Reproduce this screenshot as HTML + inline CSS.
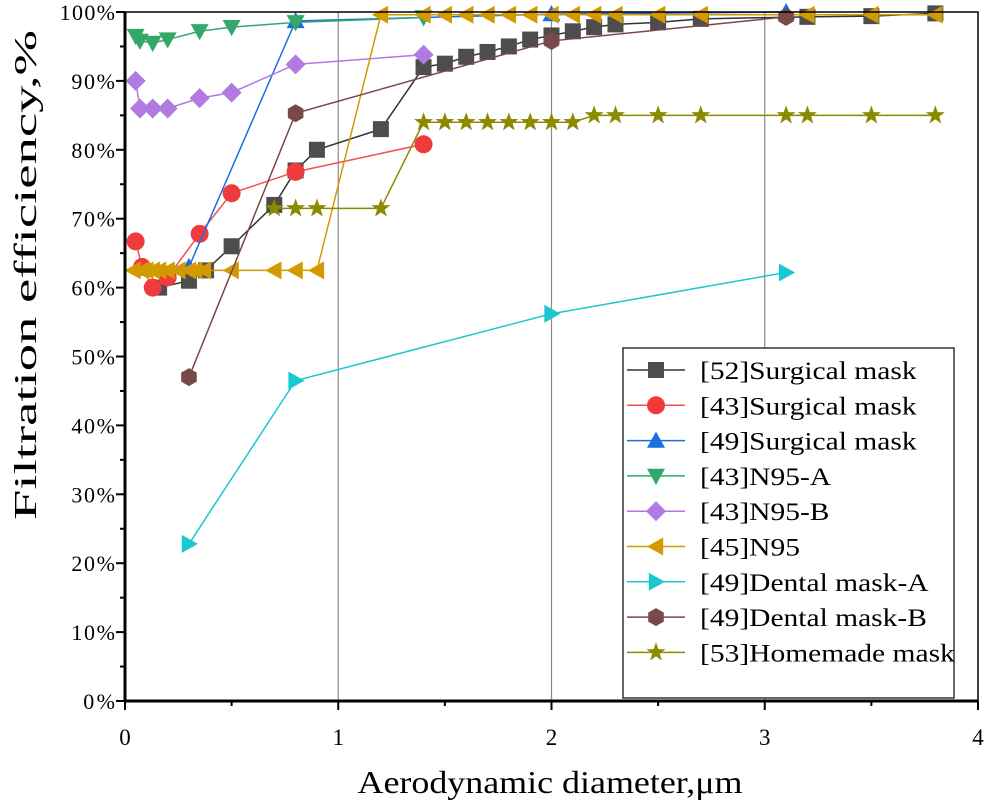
<!DOCTYPE html>
<html><head><meta charset="utf-8"><style>
body{margin:0;background:#fff;}
svg text{font-family:"Liberation Serif",serif;fill:#000;}
</style></head><body>
<svg id="chart" width="990" height="806" xmlns="http://www.w3.org/2000/svg"></svg>
<script>
const xTicks=[0,1,2,3,4];
const yTicks=[0,10,20,30,40,50,60,70,80,90,100];
const seriesNames=["[52]Surgical mask","[43]Surgical mask","[49]Surgical mask","[43]N95-A","[43]N95-B","[45]N95","[49]Dental mask-A","[49]Dental mask-B","[53]Homemade mask"];
const s52x=[0.16,0.3,0.38,0.5,0.7,0.8,0.9,1.2,1.4,1.5,1.6,1.7,1.8,1.9,2.0,2.1,2.2,2.3,2.5,2.7,3.2,3.5,3.8];
const s52y=[60,61,62.5,66,72,77,80,83,92,92.5,93.5,94.2,95,96,96.6,97.2,97.8,98.2,98.5,99,99.3,99.4,99.8];
const s43x=[0.05,0.08,0.13,0.2,0.35,0.5,0.8,1.4];
const s43y=[66.7,63,60,61.5,67.8,73.7,76.8,80.8];
const s49x=[0.3,0.8,2.0,3.1];
const s49y=[63,98.7,99.7,100];
const n95ax=[0.05,0.07,0.13,0.2,0.35,0.5,0.8,1.4];
const n95ay=[96.5,95.8,95.5,96,97.2,97.8,98.5,99.2];
const n95bx=[0.05,0.07,0.13,0.2,0.35,0.5,0.8,1.4];
const n95by=[90,86,86,86,87.5,88.3,92.4,93.8];
const n95x=[0.04,0.08,0.1,0.13,0.16,0.2,0.25,0.3,0.33,0.37,0.5,0.7,0.8,0.9,1.2,1.4,1.5,1.6,1.7,1.8,1.9,2.0,2.1,2.2,2.3,2.5,2.7,3.2,3.5,3.8];
const n95y=[62.5,62.5,62.5,62.5,62.5,62.5,62.5,62.5,62.5,62.5,62.5,62.5,62.5,62.5,99.6,99.6,99.6,99.6,99.6,99.6,99.6,99.6,99.6,99.6,99.6,99.6,99.6,99.6,99.6,99.6];
const dax=[0.3,0.8,2.0,3.1];
const day=[22.8,46.5,56.2,62.2];
const dbx=[0.3,0.8,2.0,3.1];
const dby=[47,85.3,95.8,99.3];
const hmx=[0.7,0.8,0.9,1.2,1.4,1.5,1.6,1.7,1.8,1.9,2.0,2.1,2.2,2.3,2.5,2.7,3.1,3.2,3.5,3.8];
const hmy=[71.5,71.5,71.5,71.5,84,84,84,84,84,84,84,84,85,85,85,85,85,85,85,85];

const X0=125,X1=978,Y0=701,Y1=12;
const xs=v=>X0+(X1-X0)*v/4;
const ys=v=>Y0-(Y0-Y1)*v/100;
const svg=document.getElementById('chart');
const NS="http://www.w3.org/2000/svg";
function mk(tag,attrs,parent){const e=document.createElementNS(NS,tag);for(const k in attrs)e.setAttribute(k,attrs[k]);(parent||svg).appendChild(e);return e;}

xTicks.slice(1,4).forEach(t=>{const g=mk('line',{x1:xs(t),x2:xs(t),y1:Y1,y2:Y0,stroke:'#8a8a8a','stroke-width':1.2});

});

const series=[
 {x:s52x,y:s52y,c:'#4d4d4d',lc:'#333',m:'square'},
 {x:s43x,y:s43y,c:'#ef3b3b',lc:'#f25050',m:'circle'},
 {x:s49x,y:s49y,c:'#1a6fe0',lc:'#1a6fe0',m:'up'},
 {x:n95ax,y:n95ay,c:'#33a86a',lc:'#33a86a',m:'down'},
 {x:n95bx,y:n95by,c:'#b07ae0',lc:'#b07ae0',m:'diamond'},
 {x:n95x,y:n95y,c:'#d29a00',lc:'#d29a00',m:'left'},
 {x:dax,y:day,c:'#1cc8d0',lc:'#1cc8d0',m:'right'},
 {x:dbx,y:dby,c:'#7a4848',lc:'#7a4848',m:'hex'},
 {x:hmx,y:hmy,c:'#8c8a00',lc:'#8c8a00',m:'star'}
];
function marker(type,cx,cy,c,p){
 const s=9;let e;
 if(type==='square')e=mk('rect',{x:cx-s+1,y:cy-s+1,width:2*s-2,height:2*s-2,fill:c},p);
 else if(type==='circle')e=mk('circle',{cx,cy,r:s,fill:c},p);
 else{
  let pts;
  if(type==='up')pts=[[0,-s],[s,s*0.8],[-s,s*0.8]];
  else if(type==='down')pts=[[0,s],[s,-s*0.8],[-s,-s*0.8]];
  else if(type==='left')pts=[[-s,0],[s*0.8,-s],[s*0.8,s]];
  else if(type==='right')pts=[[s,0],[-s*0.8,-s],[-s*0.8,s]];
  else if(type==='diamond')pts=[[0,-s-1],[s+1,0],[0,s+1],[-s-1,0]];
  else if(type==='hex'){pts=[];for(let i=0;i<6;i++){const a=Math.PI/3*i-Math.PI/2;pts.push([s*Math.cos(a),s*Math.sin(a)]);}}
  else {pts=[];for(let i=0;i<10;i++){const r=i%2?4:10;const a=Math.PI/5*i-Math.PI/2;pts.push([r*Math.cos(a),r*Math.sin(a)]);}}
  e=mk('polygon',{points:pts.map(q=>(cx+q[0])+','+(cy+q[1])).join(' '),fill:c},p);
 }
 return e;
}
series.forEach((s,i)=>{
 const g=mk('g',{});
 
 
 const pl=mk('polyline',{points:s.x.map((v,j)=>xs(v)+','+ys(s.y[j])).join(' '),fill:'none',stroke:s.lc,'stroke-width':1.5},g);
 
 
 s.x.forEach((v,j)=>{const m=marker(s.m,xs(v),ys(s.y[j]),s.c,g);
  
  });
});

const fr=mk('rect',{x:X0,y:Y1,width:X1-X0,height:Y0-Y1,fill:'none',stroke:'#000','stroke-width':1.5});


mk('line',{x1:X0,x2:X0,y1:Y1,y2:Y0+1,stroke:'#000','stroke-width':3});
mk('line',{x1:X0-1,x2:X1,y1:Y0,y2:Y0,stroke:'#000','stroke-width':3});
yTicks.forEach(t=>{
 mk('line',{x1:X0-9,x2:X0,y1:ys(t),y2:ys(t),stroke:'#000','stroke-width':2});
 if(t<100)mk('line',{x1:X0-5,x2:X0,y1:ys(t+5),y2:ys(t+5),stroke:'#000','stroke-width':2});
 const tx=mk('text',{x:X0-10,y:ys(t)+8,'text-anchor':'end','font-size':22});tx.textContent=t+'%';
 
 
 tx.setAttribute('textLength',(tx.getComputedTextLength()*1.08).toFixed(1));
});
xTicks.forEach(t=>{
 mk('line',{x1:xs(t),x2:xs(t),y1:Y0,y2:Y0+9,stroke:'#000','stroke-width':2});
 if(t<4)mk('line',{x1:xs(t+0.5),x2:xs(t+0.5),y1:Y0,y2:Y0+5,stroke:'#000','stroke-width':2});
 const tx=mk('text',{x:xs(t),y:Y0+44,'text-anchor':'middle','font-size':23});tx.textContent=t;
 
 
});
const xt=mk('text',{x:550,y:793,'text-anchor':'middle','font-size':32,textLength:385,lengthAdjust:'spacingAndGlyphs'});xt.textContent='Aerodynamic diameter,μm';


const yt=mk('text',{x:0,y:0,'text-anchor':'middle','font-size':32,textLength:490,lengthAdjust:'spacingAndGlyphs',transform:'translate(36,275) rotate(-90)'});yt.textContent='Filtration efficiency,%';



const lg=mk('g',{});


mk('rect',{x:623,y:348,width:331,height:350,fill:'#fff',stroke:'#333','stroke-width':1.5},lg);
series.forEach((s,i)=>{
 const y=370+i*35.3;
 const e=mk('g',{},lg);
 
 
 mk('line',{x1:627,x2:685,y1:y,y2:y,stroke:s.lc,'stroke-width':1.5},e);
 marker(s.m,656,y,s.c,e);
 const t=mk('text',{x:700,y:y+9,'font-size':25},e);t.textContent=seriesNames[i];
 t.setAttribute('textLength',(t.getComputedTextLength()*1.18).toFixed(1));
 t.setAttribute('lengthAdjust','spacingAndGlyphs');
});
</script>
</body></html>
